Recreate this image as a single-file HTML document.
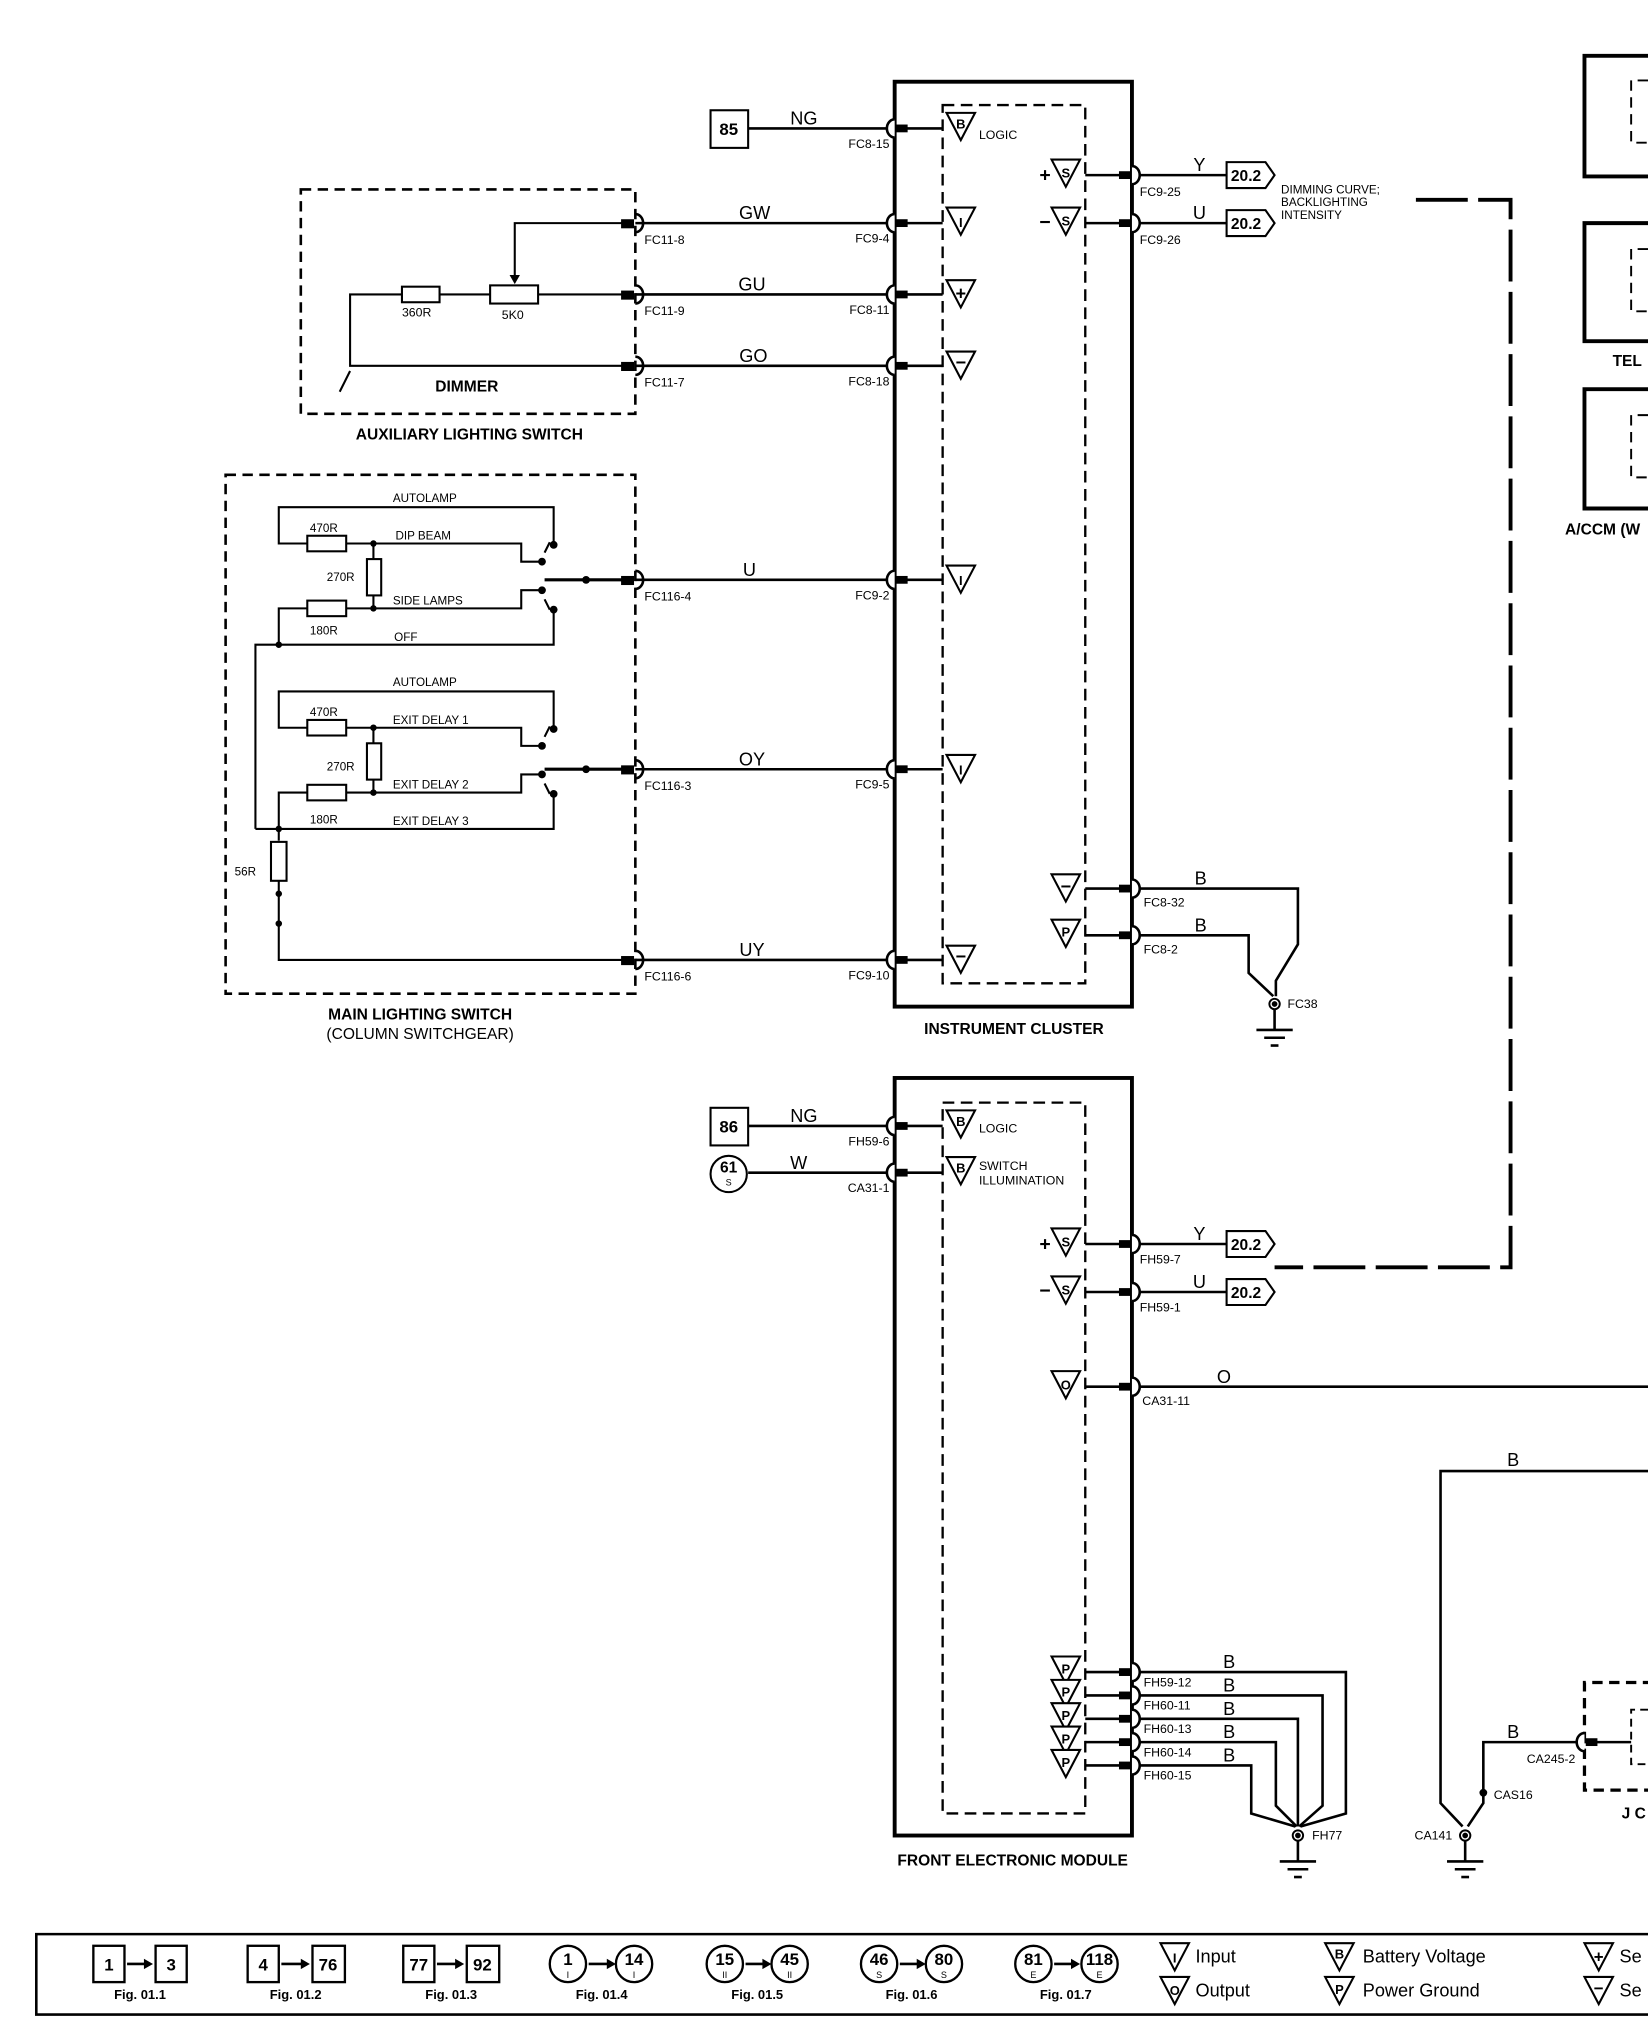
<!DOCTYPE html>
<html><head><meta charset="utf-8"><style>
html,body{margin:0;padding:0;background:#fff}
svg{display:block}
text{font-family:"Liberation Sans",Arial,sans-serif;fill:#000}
.p{font-size:9.5px}
.s{font-size:9px}
.w{font-size:14px}
</style></head><body>
<svg width="1648" height="2034" viewBox="0 0 1271 1568" preserveAspectRatio="none" xmlns="http://www.w3.org/2000/svg">
<defs>
<g id="cl"><path d="M0,-7 A6,7 0 0 0 0,7" fill="#fff" stroke="#000" stroke-width="2"/><rect x="1" y="-3" width="9" height="6"/></g>
<g id="cr"><path d="M0,-7 A6,7 0 0 1 0,7" fill="#fff" stroke="#000" stroke-width="2"/><rect x="-10" y="-3" width="9" height="6"/></g>
<polygon id="tri" points="-11,-10 11,-10 0,11" fill="#fff" stroke="#000" stroke-width="1.6"/>
<g id="gnd"><circle r="4" fill="#fff" stroke="#000" stroke-width="1.5"/><circle r="2.2"/><line x1="0" y1="4" x2="0" y2="20" stroke="#000" stroke-width="2"/><line x1="-14" y1="20" x2="14" y2="20" stroke="#000" stroke-width="2"/><line x1="-8" y1="26" x2="8" y2="26" stroke="#000" stroke-width="2"/><line x1="-3" y1="32" x2="3" y2="32" stroke="#000" stroke-width="2"/></g>
<g id="flag"><path d="M0,-10 H30 L37,0 L30,10 H0 Z" fill="#fff" stroke="#000" stroke-width="1.6"/><text x="15" y="4.5" text-anchor="middle" font-size="12" font-weight="bold">20.2</text></g>
</defs>

<g fill="none" stroke="#000">
<rect x="690" y="63" width="183" height="713" stroke-width="3"/>
<rect x="727" y="81" width="110" height="677" stroke-width="1.8" stroke-dasharray="9,5"/>
<rect x="690" y="831" width="183" height="584" stroke-width="3"/>
<rect x="727" y="850" width="110" height="548" stroke-width="1.8" stroke-dasharray="9,5"/>
<rect x="232" y="146" width="258" height="173" stroke-width="2" stroke-dasharray="8,5"/>
<rect x="174" y="366" width="316" height="400" stroke-width="2" stroke-dasharray="8,5"/>
<path d="M1275,43 H1222 V136 H1275" stroke-width="3"/>
<path d="M1275,172 H1222 V263 H1275" stroke-width="3"/>
<path d="M1275,300 H1222 V392 H1275" stroke-width="3"/>
<path d="M1271,62 H1258 V110 H1271" stroke-width="1.5" stroke-dasharray="8,5"/>
<path d="M1271,192 H1258 V240 H1271" stroke-width="1.5" stroke-dasharray="8,5"/>
<path d="M1271,320 H1258 V368 H1271" stroke-width="1.5" stroke-dasharray="8,5"/>
<path d="M1275,1297 H1222 V1380 H1275" stroke-width="2.5" stroke-dasharray="8,5"/>
<path d="M1271,1318 H1258 V1360 H1271" stroke-width="1.5" stroke-dasharray="6,4"/>
<path d="M1092,154 H1165 V977 H983" stroke-width="3" stroke-dasharray="40,8"/>

<g stroke-width="2">
<line x1="577" y1="99" x2="690" y2="99"/>
<line x1="490" y1="172" x2="690" y2="172"/>
<line x1="490" y1="227" x2="690" y2="227"/>
<line x1="490" y1="282" x2="690" y2="282"/>
<line x1="490" y1="447" x2="690" y2="447"/>
<line x1="490" y1="593" x2="690" y2="593"/>
<line x1="490" y1="740" x2="690" y2="740"/>
<line x1="873" y1="135" x2="946" y2="135"/>
<line x1="873" y1="172" x2="946" y2="172"/>
<path d="M873,685 H1001 V728 L984,756 V768"/>
<path d="M873,721 H963 V750 L982,768"/>
<line x1="577" y1="868" x2="690" y2="868"/>
<line x1="577" y1="904" x2="690" y2="904"/>
<line x1="873" y1="959" x2="946" y2="959"/>
<line x1="873" y1="996" x2="946" y2="996"/>
<line x1="873" y1="1069" x2="1271" y2="1069"/>
<path d="M873,1289 H1038 V1398 L1003,1408"/>
<path d="M873,1307 H1020 V1392 L1002,1408"/>
<path d="M873,1325 H1001 V1408"/>
<path d="M873,1343 H984 V1392 L1000,1408"/>
<path d="M873,1361 H965 V1398 L999,1408"/>
<path d="M1271,1134 H1111 V1390 L1128,1408"/>
<path d="M1218,1343 H1144 V1390 L1132,1408"/>
<path d="M699,99 H727 M699,172 H727 M699,227 H727 M699,282 H727 M699,447 H727 M699,593 H727 M699,740 H727"/>
<path d="M837,135 H865 M837,172 H865 M837,685 H865 M837,721 H865"/>
<path d="M699,868 H727 M699,904 H727"/>
<path d="M837,959 H865 M837,996 H865 M837,1069 H865 M837,1289 H865 M837,1307 H865 M837,1325 H865 M837,1343 H865 M837,1361 H865"/>
<path d="M1222,1343 H1258"/>
</g>

<g stroke-width="1.6">
<path d="M480,172 H397 V214"/>
<path d="M480,227 H415 M378,227 H339 M310,227 H270 V282 H480"/>
<path d="M270,286 L262,302"/>
</g>
<rect x="310" y="221" width="29" height="12" stroke-width="1.6" fill="#fff"/>
<rect x="378" y="220" width="37" height="14" stroke-width="1.6" fill="#fff"/>

<g stroke-width="1.6">
<path d="M427,418 V391 H215 V419 H237"/>
<path d="M267,419 H402 V433 H416"/>
<path d="M267,469 H402 V455 H416"/>
<path d="M237,469 H215 V497"/>
<path d="M427,470 V497 H197 V639"/>
<path d="M288,419 V431 M288,458 V469"/>
<path d="M427,560 V533 H215 V561 H237"/>
<path d="M267,561 H402 V575 H416"/>
<path d="M267,611 H402 V597 H416"/>
<path d="M237,611 H215 V639"/>
<path d="M427,612 V639 H197"/>
<path d="M288,561 V573 M288,600 V611"/>
<path d="M215,639 V648 M215,678 V740 H480"/>
<path d="M424,418 L420,426 M424,470 L420,462 M424,560 L420,568 M424,612 L420,604"/>
</g>
<g stroke-width="2.4"><path d="M420,447 H480 M420,593 H480"/></g>
<g stroke-width="1.6" fill="#fff">
<rect x="237" y="413" width="30" height="12"/><rect x="237" y="463" width="30" height="12"/>
<rect x="283" y="431" width="11" height="28"/>
<rect x="237" y="555" width="30" height="12"/><rect x="237" y="605" width="30" height="12"/>
<rect x="283" y="573" width="11" height="28"/>
<rect x="209" y="649" width="12" height="30"/>
</g>
<rect x="548" y="85" width="29" height="29" stroke-width="1.6" fill="#fff"/>
<rect x="548" y="854" width="29" height="29" stroke-width="1.6" fill="#fff"/>
<circle cx="562" cy="905" r="14" stroke-width="1.6" fill="#fff"/>
</g>

<g>
<polygon points="393,212 401,212 397,219"/>
<circle cx="427" cy="420" r="3"/><circle cx="418" cy="433" r="3"/><circle cx="418" cy="455" r="3"/><circle cx="427" cy="470" r="3"/>
<circle cx="427" cy="562" r="3"/><circle cx="418" cy="575" r="3"/><circle cx="418" cy="597" r="3"/><circle cx="427" cy="612" r="3"/>
<circle cx="288" cy="419" r="2.5"/><circle cx="288" cy="469" r="2.5"/><circle cx="215" cy="497" r="2.5"/>
<circle cx="288" cy="561" r="2.5"/><circle cx="288" cy="611" r="2.5"/><circle cx="215" cy="639" r="2.5"/>
<circle cx="215" cy="689" r="2.5"/><circle cx="215" cy="712" r="2.5"/>
<circle cx="452" cy="447" r="3"/><circle cx="452" cy="593" r="3"/>
<circle cx="1144" cy="1382" r="3"/>
<rect x="479" y="169" width="10" height="7"/><rect x="479" y="224" width="10" height="7"/><rect x="479" y="279" width="10" height="7"/>
<rect x="479" y="444" width="10" height="7"/><rect x="479" y="590" width="10" height="7"/><rect x="479" y="737" width="10" height="7"/>
</g>
<g fill="none" stroke="#000" stroke-width="2">
<path d="M490,165 A6,7 0 0 1 490,179"/><path d="M490,220 A6,7 0 0 1 490,234"/><path d="M490,275 A6,7 0 0 1 490,289"/>
<path d="M490,440 A6,7 0 0 1 490,454"/><path d="M490,586 A6,7 0 0 1 490,600"/><path d="M490,733 A6,7 0 0 1 490,747"/>
</g>

<use href="#cl" x="690" y="99"/><use href="#cl" x="690" y="172"/><use href="#cl" x="690" y="227"/><use href="#cl" x="690" y="282"/>
<use href="#cl" x="690" y="447"/><use href="#cl" x="690" y="593"/><use href="#cl" x="690" y="740"/>
<use href="#cr" x="873" y="135"/><use href="#cr" x="873" y="172"/><use href="#cr" x="873" y="685"/><use href="#cr" x="873" y="721"/>
<use href="#cl" x="690" y="868"/><use href="#cl" x="690" y="904"/>
<use href="#cr" x="873" y="959"/><use href="#cr" x="873" y="996"/><use href="#cr" x="873" y="1069"/>
<use href="#cr" x="873" y="1289"/><use href="#cr" x="873" y="1307"/><use href="#cr" x="873" y="1325"/><use href="#cr" x="873" y="1343"/><use href="#cr" x="873" y="1361"/>
<use href="#cl" x="1222" y="1343"/>

<use href="#gnd" x="983" y="774"/><use href="#gnd" x="1001" y="1415"/><use href="#gnd" x="1130" y="1415"/>

<use href="#flag" x="946" y="135"/><use href="#flag" x="946" y="172"/><use href="#flag" x="946" y="959"/><use href="#flag" x="946" y="996"/>

<g font-size="10" font-weight="bold" text-anchor="middle">
<use href="#tri" x="741" y="97"/><text x="741" y="99">B</text>
<use href="#tri" x="741" y="170"/><text x="741" y="175">I</text>
<use href="#tri" x="741" y="226"/><text x="741" y="231" font-size="14">+</text>
<use href="#tri" x="741" y="281"/><text x="741" y="284" font-size="14">−</text>
<use href="#tri" x="741" y="446"/><text x="741" y="451">I</text>
<use href="#tri" x="741" y="592"/><text x="741" y="597">I</text>
<use href="#tri" x="741" y="739"/><text x="741" y="742" font-size="14">−</text>
<use href="#tri" x="822" y="133"/><text x="822" y="137">S</text><text x="806" y="140" font-size="15">+</text>
<use href="#tri" x="822" y="170"/><text x="822" y="174">S</text><text x="806" y="176" font-size="15">−</text>
<use href="#tri" x="822" y="684"/><text x="822" y="688" font-size="14">−</text>
<use href="#tri" x="822" y="719"/><text x="822" y="722">P</text>
<use href="#tri" x="741" y="866"/><text x="741" y="868">B</text>
<use href="#tri" x="741" y="902"/><text x="741" y="904">B</text>
<use href="#tri" x="822" y="957"/><text x="822" y="961">S</text><text x="806" y="964" font-size="15">+</text>
<use href="#tri" x="822" y="994"/><text x="822" y="998">S</text><text x="806" y="1000" font-size="15">−</text>
<use href="#tri" x="822" y="1067"/><text x="822" y="1071">O</text>
<use href="#tri" x="822" y="1287"/><text x="822" y="1290">P</text>
<use href="#tri" x="822" y="1305"/><text x="822" y="1308">P</text>
<use href="#tri" x="822" y="1323"/><text x="822" y="1326">P</text>
<use href="#tri" x="822" y="1341"/><text x="822" y="1344">P</text>
<use href="#tri" x="822" y="1359"/><text x="822" y="1362">P</text>
</g>

<g>
<text x="562" y="104" text-anchor="middle" font-size="13" font-weight="bold">85</text>
<text x="562" y="873" text-anchor="middle" font-size="13" font-weight="bold">86</text>
<text x="562" y="904" text-anchor="middle" font-size="12" font-weight="bold">61</text>
<text x="562" y="914" text-anchor="middle" font-size="7">S</text>
<text x="620" y="96" class="w" text-anchor="middle">NG</text>
<text x="582" y="169" class="w" text-anchor="middle">GW</text>
<text x="580" y="224" class="w" text-anchor="middle">GU</text>
<text x="581" y="279" class="w" text-anchor="middle">GO</text>
<text x="578" y="444" class="w" text-anchor="middle">U</text>
<text x="580" y="590" class="w" text-anchor="middle">OY</text>
<text x="580" y="737" class="w" text-anchor="middle">UY</text>
<text x="925" y="132" class="w" text-anchor="middle">Y</text>
<text x="925" y="169" class="w" text-anchor="middle">U</text>
<text x="926" y="682" class="w" text-anchor="middle">B</text>
<text x="926" y="718" class="w" text-anchor="middle">B</text>
<text x="620" y="865" class="w" text-anchor="middle">NG</text>
<text x="616" y="901" class="w" text-anchor="middle">W</text>
<text x="925" y="956" class="w" text-anchor="middle">Y</text>
<text x="925" y="993" class="w" text-anchor="middle">U</text>
<text x="944" y="1066" class="w" text-anchor="middle">O</text>
<text x="948" y="1286" class="w" text-anchor="middle">B</text>
<text x="948" y="1304" class="w" text-anchor="middle">B</text>
<text x="948" y="1322" class="w" text-anchor="middle">B</text>
<text x="948" y="1340" class="w" text-anchor="middle">B</text>
<text x="948" y="1358" class="w" text-anchor="middle">B</text>
<text x="1167" y="1130" class="w" text-anchor="middle">B</text>
<text x="1167" y="1340" class="w" text-anchor="middle">B</text>

<g class="p" text-anchor="end">
<text x="686" y="114">FC8-15</text><text x="686" y="187">FC9-4</text><text x="686" y="242">FC8-11</text><text x="686" y="297">FC8-18</text>
<text x="686" y="462">FC9-2</text><text x="686" y="608">FC9-5</text><text x="686" y="755">FC9-10</text>
<text x="686" y="883">FH59-6</text><text x="686" y="919">CA31-1</text>
<text x="1215" y="1359">CA245-2</text><text x="1120" y="1418">CA141</text>
</g>
<g class="p">
<text x="497" y="188">FC11-8</text><text x="497" y="243">FC11-9</text><text x="497" y="298">FC11-7</text>
<text x="497" y="463">FC116-4</text><text x="497" y="609">FC116-3</text><text x="497" y="756">FC116-6</text>
<text x="879" y="151">FC9-25</text><text x="879" y="188">FC9-26</text>
<text x="882" y="699">FC8-32</text><text x="882" y="735">FC8-2</text><text x="993" y="777">FC38</text>
<text x="879" y="974">FH59-7</text><text x="879" y="1011">FH59-1</text><text x="881" y="1083">CA31-11</text>
<text x="882" y="1300">FH59-12</text><text x="882" y="1318">FH60-11</text><text x="882" y="1336">FH60-13</text>
<text x="882" y="1354">FH60-14</text><text x="882" y="1372">FH60-15</text><text x="1012" y="1418">FH77</text>
<text x="1152" y="1387">CAS16</text>
<text x="755" y="107">LOGIC</text><text x="755" y="873">LOGIC</text>
<text x="755" y="902">SWITCH</text><text x="755" y="913">ILLUMINATION</text>
<text x="988" y="149" font-size="9">DIMMING CURVE;</text><text x="988" y="159" font-size="9">BACKLIGHTING</text><text x="988" y="169" font-size="9">INTENSITY</text>
<text x="310" y="244">360R</text><text x="387" y="246">5K0</text>
</g>
<g class="s">
<text x="303" y="387">AUTOLAMP</text><text x="305" y="416">DIP BEAM</text><text x="303" y="466">SIDE LAMPS</text><text x="304" y="494">OFF</text>
<text x="239" y="410">470R</text><text x="252" y="448">270R</text><text x="239" y="489">180R</text>
<text x="303" y="529">AUTOLAMP</text><text x="303" y="558">EXIT DELAY 1</text><text x="303" y="608">EXIT DELAY 2</text><text x="303" y="636">EXIT DELAY 3</text>
<text x="239" y="552">470R</text><text x="252" y="594">270R</text><text x="239" y="635">180R</text><text x="181" y="675">56R</text>
</g>
<g font-size="12" font-weight="bold" text-anchor="middle">
<text x="360" y="302">DIMMER</text>
<text x="362" y="339">AUXILIARY LIGHTING SWITCH</text>
<text x="324" y="786">MAIN LIGHTING SWITCH</text>
<text x="782" y="797">INSTRUMENT CLUSTER</text>
<text x="781" y="1438">FRONT ELECTRONIC MODULE</text>
<text x="1255" y="282">TEL</text>
<text x="1236" y="412">A/CCM (W</text>
<text x="1260" y="1402">J C</text>
</g>
<text x="324" y="801" font-size="12" text-anchor="middle">(COLUMN SWITCHGEAR)</text>
</g>

<g fill="none" stroke="#000" stroke-width="2">
<path d="M1275,1491 H28 V1553 H1275"/>
</g>
<g fill="#fff" stroke="#000" stroke-width="1.8">
<rect x="72" y="1500" width="24" height="28"/><rect x="120" y="1500" width="24" height="28"/>
<rect x="191" y="1500" width="24" height="28"/><rect x="241" y="1500" width="25" height="28"/>
<rect x="311" y="1500" width="24" height="28"/><rect x="360" y="1500" width="25" height="28"/>
<circle cx="438" cy="1514" r="14"/><circle cx="489" cy="1514" r="14"/>
<circle cx="559" cy="1514" r="14"/><circle cx="609" cy="1514" r="14"/>
<circle cx="678" cy="1514" r="14"/><circle cx="728" cy="1514" r="14"/>
<circle cx="797" cy="1514" r="14"/><circle cx="848" cy="1514" r="14"/>
</g>
<g stroke="#000" stroke-width="2">
<path d="M98,1514 H112 M217,1514 H233 M337,1514 H352 M454,1514 H469 M575,1514 H590 M694,1514 H709 M813,1514 H828"/>
</g>
<g>
<polygon points="118,1514 111,1510 111,1518"/><polygon points="239,1514 232,1510 232,1518"/><polygon points="358,1514 351,1510 351,1518"/>
<polygon points="475,1514 468,1510 468,1518"/><polygon points="595,1514 588,1510 588,1518"/><polygon points="714,1514 707,1510 707,1518"/><polygon points="833,1514 826,1510 826,1518"/>
</g>
<g font-size="13" font-weight="bold" text-anchor="middle">
<text x="84" y="1519">1</text><text x="132" y="1519">3</text>
<text x="203" y="1519">4</text><text x="253" y="1519">76</text>
<text x="323" y="1519">77</text><text x="372" y="1519">92</text>
<text x="438" y="1515">1</text><text x="489" y="1515">14</text>
<text x="559" y="1515">15</text><text x="609" y="1515">45</text>
<text x="678" y="1515">46</text><text x="728" y="1515">80</text>
<text x="797" y="1515">81</text><text x="848" y="1515">118</text>
</g>
<g font-size="7" text-anchor="middle">
<text x="438" y="1525">I</text><text x="489" y="1525">I</text><text x="559" y="1525">II</text><text x="609" y="1525">II</text>
<text x="678" y="1525">S</text><text x="728" y="1525">S</text><text x="797" y="1525">E</text><text x="848" y="1525">E</text>
</g>
<g font-size="10" font-weight="bold" text-anchor="middle">
<text x="108" y="1541">Fig. 01.1</text><text x="228" y="1541">Fig. 01.2</text><text x="348" y="1541">Fig. 01.3</text>
<text x="464" y="1541">Fig. 01.4</text><text x="584" y="1541">Fig. 01.5</text><text x="703" y="1541">Fig. 01.6</text><text x="822" y="1541">Fig. 01.7</text>
</g>
<g font-size="10" font-weight="bold" text-anchor="middle">
<use href="#tri" x="906" y="1508"/><text x="906" y="1513">I</text>
<use href="#tri" x="906" y="1534"/><text x="906" y="1538">O</text>
<use href="#tri" x="1033" y="1508"/><text x="1033" y="1510">B</text>
<use href="#tri" x="1033" y="1534"/><text x="1033" y="1537">P</text>
<use href="#tri" x="1233" y="1508"/><text x="1233" y="1513" font-size="13">+</text>
<use href="#tri" x="1233" y="1534"/><text x="1233" y="1537" font-size="13">−</text>
</g>
<g font-size="14">
<text x="922" y="1513">Input</text><text x="922" y="1539">Output</text>
<text x="1051" y="1513">Battery Voltage</text><text x="1051" y="1539">Power Ground</text>
<text x="1249" y="1513">Se</text><text x="1249" y="1539">Se</text>
</g>
</svg>
</body></html>
